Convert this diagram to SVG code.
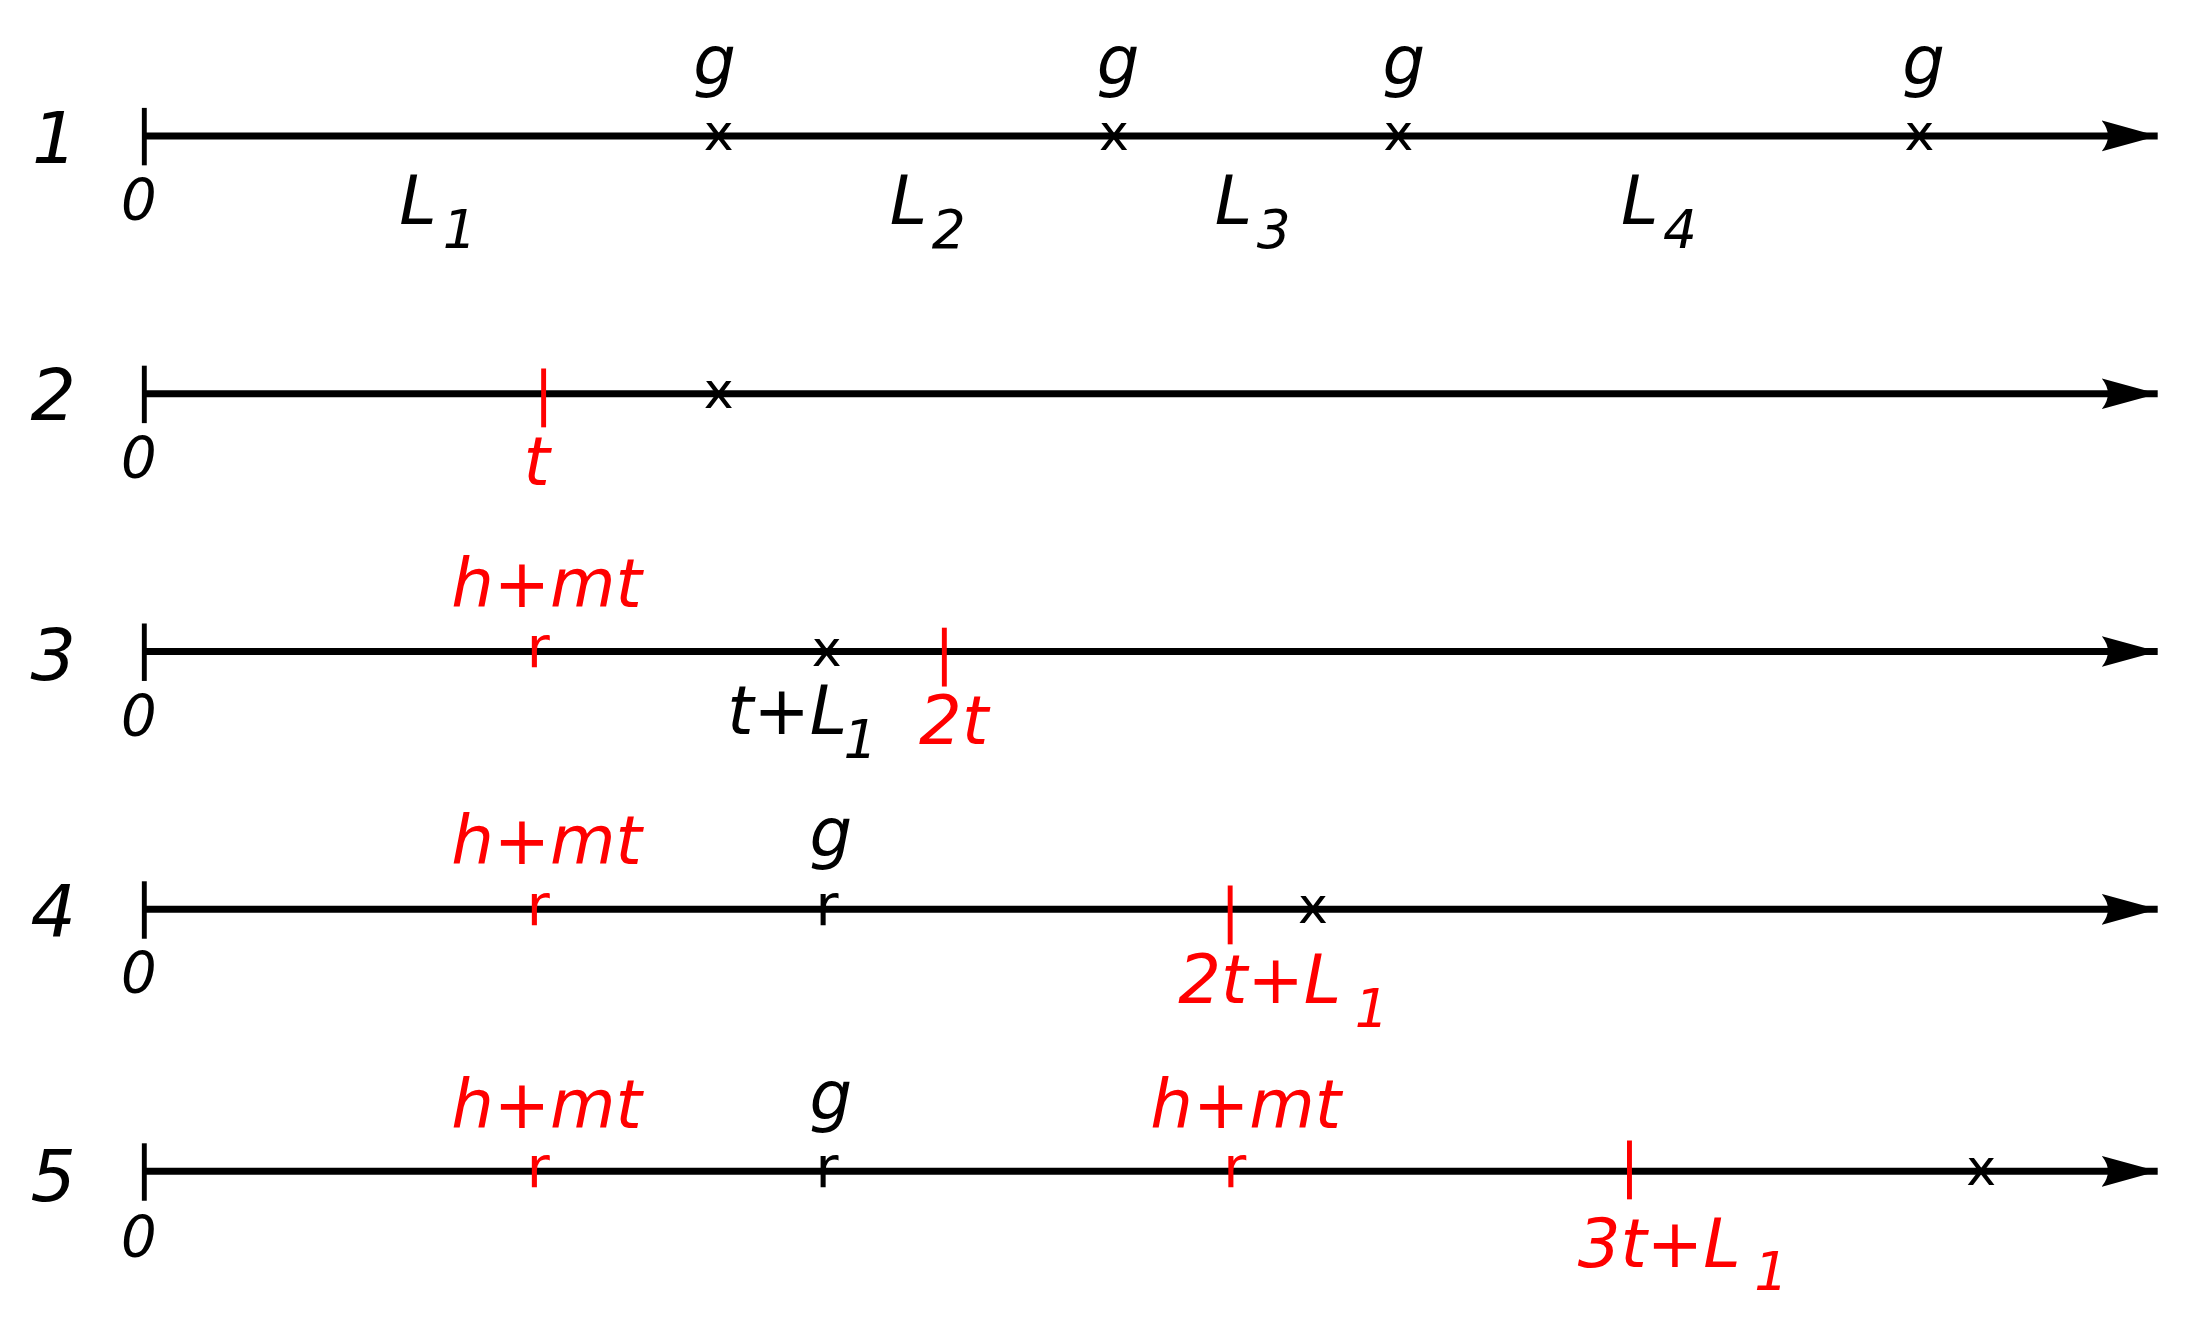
<svg xmlns="http://www.w3.org/2000/svg" width="2197" height="1321" viewBox="0 0 2197 1321">
<defs>
<style>
text{font-family:"DejaVu Sans","Liberation Sans",sans-serif;}
.lab{font-size:48px;font-style:italic;}
.num{font-size:51px;font-style:italic;text-anchor:middle;}
.zero{font-size:40px;font-style:italic;text-anchor:middle;}
.mk{font-size:36px;}
.rk{font-size:40px;}
.mid{text-anchor:middle;}
.red{fill:#ff0000;}
.axis{stroke:#000;stroke-width:5;fill:none;}
.tick{stroke:#000;stroke-width:3.5;}
.rtick{stroke:#ff0000;stroke-width:3.5;}
</style>
<marker id="arr" markerUnits="userSpaceOnUse" markerWidth="50" markerHeight="30" refX="40" refY="11" orient="auto" viewBox="0 0 50 30">
<path d="M40,11 L0,0 Q9,11 0,22 Z" fill="#000"/>
</marker>
</defs>
<rect width="2197" height="1321" fill="#fff"/>
<g transform="scale(1.4011)">
<g id="connectors">
<path class="axis" d="M103,97 H1540" marker-end="url(#arr)"/>
<path class="axis" d="M103,281 H1540" marker-end="url(#arr)"/>
<path class="axis" d="M103,465 H1540" marker-end="url(#arr)"/>
<path class="axis" d="M103,649 H1540" marker-end="url(#arr)"/>
<path class="axis" d="M103,836 H1540" marker-end="url(#arr)"/>
</g>
<g id="row1">
<text class="num" x="39" y="116">1</text>
<line class="tick" x1="103" y1="77" x2="103" y2="118"/>
<text class="zero" x="99" y="157">0</text>
<text class="mk mid" x="513" y="107">x</text>
<text class="mk mid" x="795" y="107">x</text>
<text class="mk mid" x="998" y="107">x</text>
<text class="mk mid" x="1370" y="107">x</text>
<text class="lab mid" x="510" y="60">g</text>
<text class="lab mid" x="798" y="60">g</text>
<text class="lab mid" x="1002" y="60">g</text>
<text class="lab mid" x="1373" y="60">g</text>
<text class="lab" x="285" y="160">L<tspan x="316" y="177" font-size="38">1</tspan></text>
<text class="lab" x="635" y="160">L<tspan x="665" y="177" font-size="38">2</tspan></text>
<text class="lab" x="867" y="160">L<tspan x="897" y="177" font-size="38">3</tspan></text>
<text class="lab" x="1157" y="160">L<tspan x="1187" y="177" font-size="38">4</tspan></text>
</g>
<g id="row2">
<text class="num" x="38" y="300">2</text>
<line class="tick" x1="103" y1="261" x2="103" y2="302"/>
<text class="zero" x="99" y="341">0</text>
<line class="rtick" x1="388" y1="263" x2="388" y2="305"/>
<text class="lab mid red" x="383" y="346">t</text>
<text class="mk mid" x="513" y="291">x</text>
</g>
<g id="row3">
<text class="num" x="38" y="485">3</text>
<line class="tick" x1="103" y1="445" x2="103" y2="486"/>
<text class="zero" x="99" y="525">0</text>
<text class="lab red" x="322" y="433">h+mt</text>
<text class="rk red" x="376" y="476">r</text>
<text class="mk mid" x="590" y="475">x</text>
<line class="rtick" x1="674" y1="448" x2="674" y2="490"/>
<text class="lab" x="519" y="524">t+L<tspan x="602" y="541" font-size="38">1</tspan></text>
<text class="lab red" x="656" y="531">2t</text>
</g>
<g id="row4">
<text class="num" x="38" y="668">4</text>
<line class="tick" x1="103" y1="629" x2="103" y2="670"/>
<text class="zero" x="99" y="709">0</text>
<text class="lab red" x="322" y="617">h+mt</text>
<text class="lab mid" x="593" y="611">g</text>
<text class="rk red" x="376" y="660">r</text>
<text class="rk" x="582" y="660">r</text>
<line class="rtick" x1="878" y1="632" x2="878" y2="674"/>
<text class="mk mid" x="937" y="659">x</text>
<text class="lab red" x="841" y="716">2t+L<tspan x="967" y="733" font-size="38">1</tspan></text>
</g>
<g id="row5">
<text class="num" x="38" y="857">5</text>
<line class="tick" x1="103" y1="816" x2="103" y2="857"/>
<text class="zero" x="99" y="897">0</text>
<text class="lab red" x="322" y="805">h+mt</text>
<text class="lab mid" x="593" y="799">g</text>
<text class="lab red" x="821" y="805">h+mt</text>
<text class="rk red" x="376" y="847">r</text>
<text class="rk" x="582" y="847">r</text>
<text class="rk red" x="873" y="847">r</text>
<line class="rtick" x1="1163" y1="814" x2="1163" y2="856"/>
<text class="mk mid" x="1414" y="846">x</text>
<text class="lab red" x="1126" y="904">3t+L<tspan x="1252" y="921" font-size="38">1</tspan></text>
</g>
</g>
</svg>
